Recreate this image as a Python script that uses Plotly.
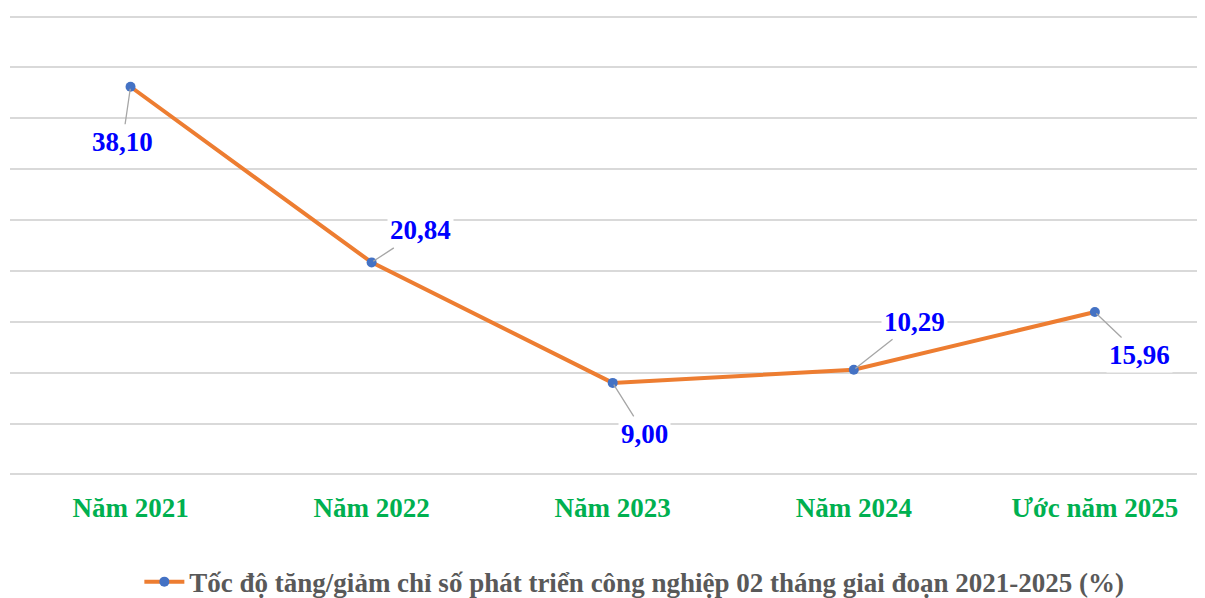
import plotly.graph_objects as go

categories = ["Năm 2021", "Năm 2022", "Năm 2023", "Năm 2024", "Ước năm 2025"]
values = [38.10, 20.84, 9.00, 10.29, 15.96]
value_labels = ["38,10", "20,84", "9,00", "10,29", "15,96"]
series_name = "Tốc độ tăng/giảm chỉ số phát triển công nghiệp 02 tháng giai đoạn 2021-2025 (%)"

label_offsets = [(-8, 55), (49, -32), (32, 51), (61, -48), (45, 43)]

fig = go.Figure()
fig.add_trace(go.Scatter(
    x=list(range(len(categories))), y=values, mode="lines+markers",
    name="<b>" + series_name + "</b>",
    line=dict(color="#ED7D31", width=4),
    marker=dict(color="#4472C4", size=10),
))

for i, (v, t) in enumerate(zip(values, value_labels)):
    ax, ay = label_offsets[i]
    fig.add_annotation(
        x=i, y=v, text="<b>%s</b>" % t, showarrow=True, arrowhead=0,
        arrowwidth=1.3, arrowcolor="#A6A6A6", ax=ax, ay=ay,
        font=dict(family="Liberation Serif", size=27, color="#0000FF"),
        bgcolor="white", borderpad=2, standoff=2,
    )

fig.update_layout(
    width=1205, height=598,
    margin=dict(l=2, r=0, t=7, b=130, autoexpand=False),
    plot_bgcolor="white", paper_bgcolor="white",
    showlegend=True,
    legend=dict(orientation="h", x=0.519, xanchor="center",
                yref="container", y=0.04, yanchor="middle",
                font=dict(family="Liberation Serif", size=27, color="#595959"),
                itemwidth=40),
    xaxis=dict(
        tickmode="array", tickvals=list(range(len(categories))),
        ticktext=["<b>%s</b>" % c for c in categories],
        range=[-0.5, 4.49], showgrid=False, zeroline=False, showline=False,
        tickfont=dict(family="Liberation Serif", size=27, color="#00B050"),
        ticks="", ticklen=0, automargin=False, ticklabelstandoff=13,
    ),
    yaxis=dict(
        range=[-0.15, 45.15], dtick=5, showticklabels=False, showgrid=True,
        gridcolor="#D9D9D9", gridwidth=1.5, zeroline=False, showline=False,
        automargin=False,
    ),
)

fig.write_html("out.html")
